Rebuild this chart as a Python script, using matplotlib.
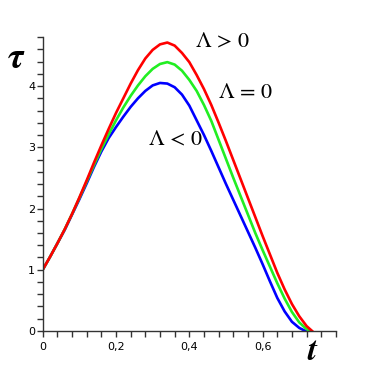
import matplotlib
matplotlib.use('Agg')
import matplotlib.pyplot as plt
from matplotlib.ticker import MultipleLocator, FixedLocator, FuncFormatter

# values
t_pos = [0, .02, .04, .06, .08, .10, .12, .14, .16, .18, .20, .22, .24, .26, .28, .30, .32,
         .34, .36, .38, .40, .42, .44, .46, .48, .50, .52, .54, .56, .58, .60, .62, .64,
         .66, .68, .70, .72, .735]
tau_pos = [1.0, 1.21, 1.43, 1.66, 1.91, 2.18, 2.46, 2.75, 3.03, 3.30, 3.56, 3.80, 4.04,
           4.26, 4.45, 4.59, 4.68, 4.71, 4.66, 4.54, 4.39, 4.18, 3.95, 3.69, 3.40, 3.10,
           2.79, 2.48, 2.17, 1.86, 1.55, 1.25, 0.95, 0.68, 0.44, 0.24, 0.08, 0.0]

t_zero = [0, .02, .04, .06, .08, .10, .12, .14, .16, .18, .20, .22, .24, .26, .28, .30, .32,
          .34, .36, .38, .40, .42, .44, .46, .48, .50, .52, .54, .56, .58, .60, .62, .64,
          .66, .68, .70, .72, .732]
tau_zero = [1.0, 1.21, 1.43, 1.66, 1.91, 2.17, 2.44, 2.71, 2.97, 3.21, 3.44, 3.65, 3.84,
            4.01, 4.16, 4.28, 4.36, 4.39, 4.35, 4.25, 4.10, 3.92, 3.69, 3.43, 3.12, 2.81,
            2.50, 2.20, 1.90, 1.60, 1.32, 1.05, 0.78, 0.53, 0.31, 0.14, 0.03, 0.0]

t_neg = [0, .02, .04, .06, .08, .10, .12, .14, .16, .18, .20, .22, .24, .26, .28, .30, .32,
         .34, .36, .38, .40, .42, .44, .46, .48, .50, .52, .54, .56, .58, .60, .62, .64,
         .66, .68, .70, .717]
tau_neg = [1.0, 1.21, 1.43, 1.65, 1.90, 2.15, 2.41, 2.68, 2.93, 3.15, 3.33, 3.50, 3.66,
           3.80, 3.92, 4.01, 4.05, 4.04, 3.98, 3.86, 3.68, 3.44, 3.20, 2.94, 2.67, 2.40,
           2.14, 1.88, 1.62, 1.36, 1.09, 0.81, 0.54, 0.32, 0.15, 0.05, 0.0]

x_ticks = [0, 0.2, 0.4, 0.6]
y_ticks = [0, 1, 2, 3, 4]

fig = plt.figure(figsize=(3.74, 3.74), dpi=100)
ax = fig.add_axes([0.1142, 0.115, 0.784, 0.786])

ax.plot(t_neg, tau_neg, color='#0000ff', lw=1.9, solid_joinstyle='round')
ax.plot(t_zero, tau_zero, color='#22ee22', lw=1.9, solid_joinstyle='round')
ax.plot(t_pos, tau_pos, color='#ff0000', lw=1.9, solid_joinstyle='round')

ax.set_xlim(0, 0.8)
ax.set_ylim(0, 4.8)
for s in ['top', 'right']:
    ax.spines[s].set_visible(False)
for s in ['left', 'bottom']:
    ax.spines[s].set_color('#333333')
    ax.spines[s].set_linewidth(1.0)

ax.xaxis.set_major_locator(FixedLocator(x_ticks))
ax.xaxis.set_minor_locator(MultipleLocator(0.04))
ax.yaxis.set_major_locator(FixedLocator(y_ticks))
ax.yaxis.set_minor_locator(MultipleLocator(0.2))
fmt = FuncFormatter(lambda v, p: ('%g' % v).replace('.', ','))
ax.xaxis.set_major_formatter(fmt)
ax.yaxis.set_major_formatter(fmt)
ax.tick_params(which='both', length=4, width=1, color='#333333', direction='out',
               labelsize=8, pad=1.5)
ax.tick_params(axis='x', pad=4)

mt = {'fontsize': 16, 'math_fontfamily': 'stix'}
ax.text(0.416, 4.72, r'$\Lambda\,>\,0$', ha='left', va='center', **mt)
ax.text(0.478, 3.90, r'$\Lambda\,=\,0$', ha='left', va='center', **mt)
ax.text(0.287, 3.12, r'$\Lambda\,<\,0$', ha='left', va='center', **mt)

fig.text(0.042, 0.842, 'τ', fontfamily='STIXGeneral', fontstyle='italic',
         fontweight='bold', fontsize=26, ha='center', va='center')
fig.text(0.834, 0.058, 't', fontfamily='STIXGeneral', fontstyle='italic',
         fontweight='bold', fontsize=24, ha='center', va='center')

fig.savefig('out.png', dpi=100)
